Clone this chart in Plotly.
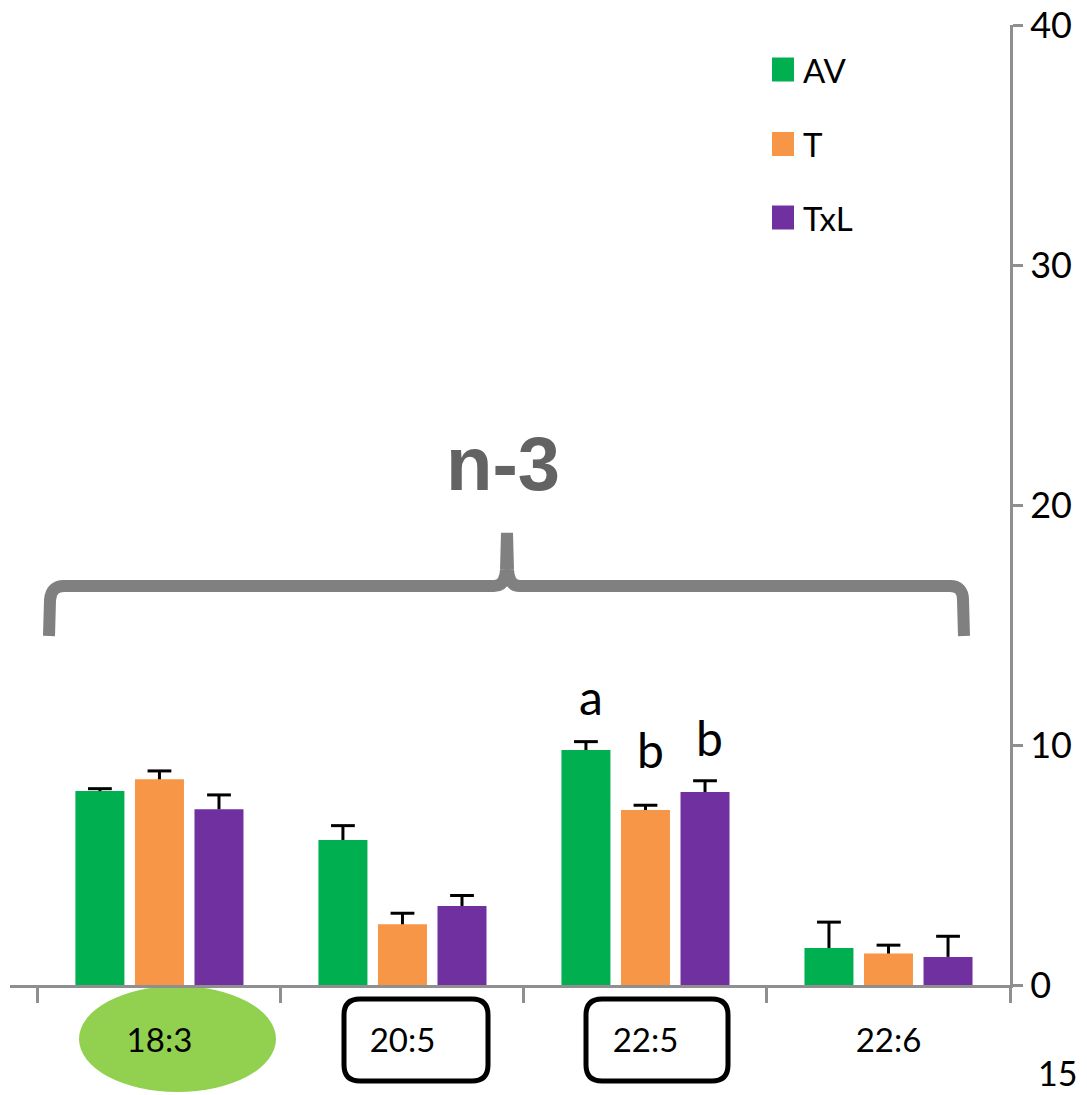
import plotly.graph_objects as go

# ---------------- data ----------------
categories = ["18:3", "20:5", "22:5", "22:6"]
series_names = ["AV", "T", "TxL"]
av = [8.08, 6.04, 9.79, 1.54]
av_err = [0.10, 0.60, 0.35, 1.08]
t = [8.57, 2.53, 7.29, 1.31]
t_err = [0.35, 0.46, 0.20, 0.35]
txl = [7.32, 3.29, 8.04, 1.17]
txl_err = [0.60, 0.44, 0.47, 0.86]
y_ticks = [0, 10, 20, 30, 40]

colors = ["#00B050", "#F79646", "#7030A0"]
values = [av, t, txl]
errors = [av_err, t_err, txl_err]

# significance letters: (category index, series index, text, y)
letters = [(2, 0, "a", 10.75), (2, 1, "b", 8.55), (2, 2, "b", 9.05)]

W, H = 1087, 1095
OFF = 0  # page body margin removed via post_script
ML, MR, MT, MB = 10, 77, 25, 110
PW, PH = W - ML - MR, H - MT - MB
FONT = "Lato"
BARGAP = 0.265


def px(x):
    return (x - OFF - ML) / PW


def py(y):
    return (MT + PH - (y - OFF)) / PH


fig = go.Figure()
for k, (name, vals, errs, col) in enumerate(zip(series_names, values, errors, colors)):
    # the bars with the vertical error stems (no caps)
    fig.add_trace(go.Bar(
        x=categories, y=vals, name=name, offsetgroup=str(k),
        marker=dict(color=col, line=dict(width=0)),
        error_y=dict(type="data", array=errs, arrayminus=[0] * len(errs),
                     symmetric=False, color="black", thickness=3, width=0),
        showlegend=False,
    ))
for k, (name, vals, errs) in enumerate(zip(series_names, values, errors)):
    # upper caps of the error bars
    tips = [v + e for v, e in zip(vals, errs)]
    fig.add_trace(go.Scatter(
        x=categories, y=tips, name=name + " cap", offsetgroup=str(k),
        mode="markers",
        marker=dict(symbol="line-ew", size=17, color="black",
                    line=dict(color="black", width=3)),
        showlegend=False, hoverinfo="skip", cliponaxis=False,
    ))

shapes = []
# green ellipse behind 18:3
shapes.append(dict(type="circle", xref="paper", yref="paper",
                   x0=px(79), x1=px(276), y0=py(986), y1=py(1092),
                   fillcolor="#92D050", line=dict(width=0), layer="below"))


def rrect(x0, y0, x1, y1, r):
    return (f"M {px(x0 + r)},{py(y0)} L {px(x1 - r)},{py(y0)} "
            f"Q {px(x1)},{py(y0)} {px(x1)},{py(y0 + r)} "
            f"L {px(x1)},{py(y1 - r)} Q {px(x1)},{py(y1)} {px(x1 - r)},{py(y1)} "
            f"L {px(x0 + r)},{py(y1)} Q {px(x0)},{py(y1)} {px(x0)},{py(y1 - r)} "
            f"L {px(x0)},{py(y0 + r)} Q {px(x0)},{py(y0)} {px(x0 + r)},{py(y0)} Z")


for (x0, x1) in [(344, 488), (586, 728)]:
    shapes.append(dict(type="path", xref="paper", yref="paper",
                       path=rrect(x0, 999, x1, 1081, 16),
                       line=dict(color="black", width=5), layer="below"))

# brace
brace_pts = [
    ("M", [(49, 636)]), ("L", [(50, 600)]), ("Q", [(51, 586), (64, 586)]),
    ("L", [(494, 586)]), ("Q", [(505, 586), (506, 570)]), ("L", [(507, 533)]),
    ("L", [(508, 570)]), ("Q", [(509, 586), (520, 586)]), ("L", [(950, 586)]),
    ("Q", [(963, 586), (963, 600)]), ("L", [(964, 636)]),
]
brace_path = " ".join(
    c + " " + " ".join(f"{px(a)},{py(b)}" for a, b in p) for c, p in brace_pts)
shapes.append(dict(type="path", xref="paper", yref="paper", path=brace_path,
                   line=dict(color="#808080", width=12)))

# manual legend
leg_y = [69.5, 144, 217.5]
annotations = []
for name, col, yc in zip(series_names, colors, leg_y):
    shapes.append(dict(type="rect", xref="paper", yref="paper",
                       x0=px(772), x1=px(794), y0=py(yc - 12), y1=py(yc + 12),
                       fillcolor=col, line=dict(width=0)))
    annotations.append(dict(xref="paper", yref="paper", x=px(801), y=py(yc),
                            text=name, showarrow=False, xanchor="left",
                            yanchor="middle",
                            font=dict(family=FONT, size=33, color="black")))

# letters
offs = [-0.245, 0.0, 0.245]
for ci, si, txt, yv in letters:
    annotations.append(dict(xref="x", yref="y", x=ci + offs[si] + 0.02, y=yv,
                            text=txt, showarrow=False, yanchor="bottom",
                            font=dict(family=FONT, size=48, color="black")))

annotations.append(dict(xref="paper", yref="paper", x=px(503), y=py(463),
                        text="<b>n-3</b>", showarrow=False, xanchor="center",
                        yanchor="middle",
                        font=dict(family="Liberation Sans", size=76,
                                  color="#636363")))
annotations.append(dict(xref="paper", yref="paper", x=px(1036), y=py(1095),
                        text="15", showarrow=False, xanchor="left",
                        yanchor="bottom",
                        font=dict(family=FONT, size=34, color="black")))

fig.update_layout(
    width=W, height=H,
    margin=dict(l=ML, r=MR, t=MT, b=MB, autoexpand=False),
    paper_bgcolor="white", plot_bgcolor="white",
    barmode="group", bargap=BARGAP, bargroupgap=0.177,
    scattermode="group", scattergap=BARGAP,
    shapes=shapes, annotations=annotations,
    font=dict(family=FONT, size=32, color="black"),
    xaxis=dict(type="category", range=[-0.615, 3.5], tickson="boundaries",
               ticks="outside", ticklen=15, tickwidth=3, tickcolor="#8f8f8f",
               showline=True, linecolor="#8f8f8f", linewidth=3,
               showgrid=False, zeroline=False, ticklabelstandoff=24,
               tickfont=dict(family=FONT, size=33, color="black")),
    yaxis=dict(side="right", range=[0, 40], tickvals=y_ticks,
               ticks="outside", ticklen=10, tickwidth=3, tickcolor="#8f8f8f",
               showline=True, linecolor="#8f8f8f", linewidth=3,
               showgrid=False, zeroline=False, ticklabeloverflow="allow",
               tickfont=dict(family=FONT, size=36, color="black")),
)

fig.write_html("out.html", config={"displayModeBar": False},
               post_script="document.body.style.margin='0';"
                           "document.body.style.padding='0';")
